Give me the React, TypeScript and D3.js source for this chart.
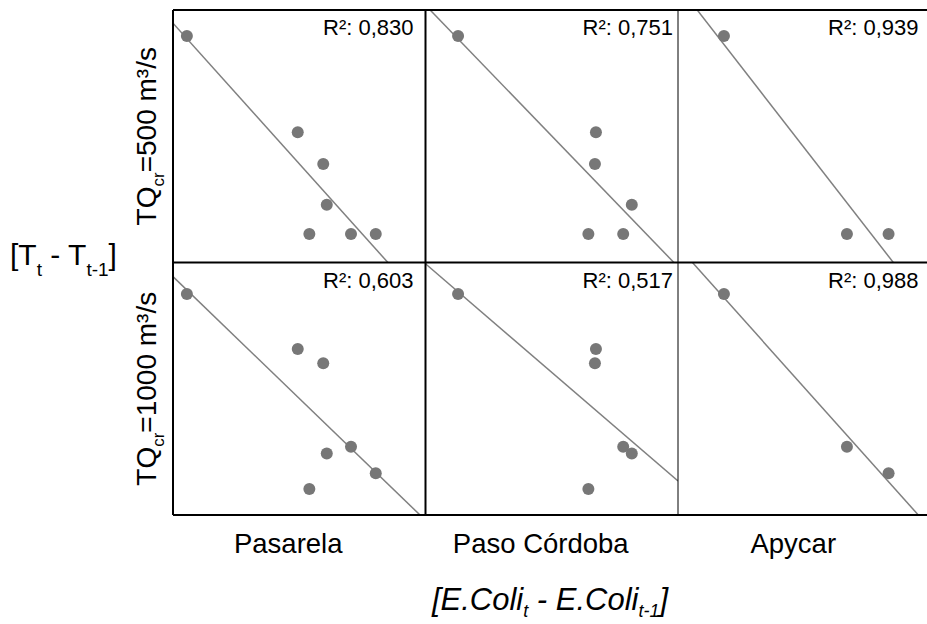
import React from 'react';
import * as d3 from 'd3';

// sites (columns) and thresholds (rows)
const sites = ['Pasarela', 'Paso Córdoba', 'Apycar'];
const thresholds = ['500', '1000'];

// R² per panel [row][col]
const r2Labels = [
  ['0,830', '0,751', '0,939'],
  ['0,603', '0,517', '0,988'],
];

// x values per site (shared by both rows), relative units 0-100
const pasarelaX = [5.5, 49.4, 59.5, 60.9, 54.0, 70.5, 80.3];
const pasoX = [12.9, 67.5, 67.1, 81.7, 64.5, 78.3];
const apycarX = [18.2, 66.9, 83.4];

// y values, TQcr = 500
const pasarela500 = [89.7, 51.6, 39.0, 22.9, 11.3, 11.3, 11.3];
const paso500 = [89.7, 51.6, 39.0, 22.9, 11.3, 11.3];
const apycar500 = [89.7, 11.3, 11.3];

// y values, TQcr = 1000
const pasarela1000 = [87.5, 65.7, 60.1, 24.4, 10.3, 27.0, 16.5];
const paso1000 = [87.5, 65.7, 60.1, 24.4, 10.3, 27.0];
const apycar1000 = [87.5, 27.0, 16.5];

// fitted lines [intercept, slope]
const fits500 = [[94.8, -1.114], [101.9, -1.036], [109.8, -1.2875]];
const fits1000 = [[94.4, -0.965], [99.5, -0.86], [106.4, -1.118]];

const xs = [pasarelaX, pasoX, apycarX];
const ys = [
  [pasarela500, paso500, apycar500],
  [pasarela1000, paso1000, apycar1000],
];
const fits = [fits500, fits1000];

const W = 927;
const H = 624;
const left = 173;
const top = 10;
const cellW = 252.5;
const cellH = 252.5;
const r2Offset = [12, 5, 12];
const gray = '#777777';
const font = 'Arial, "Liberation Sans", Helvetica, sans-serif';

export default function App() {
  const panels = [];
  thresholds.forEach((_, ri) => {
    sites.forEach((_, ci) => {
      const x0 = left + ci * cellW;
      const y0 = top + ri * cellH;
      const x = d3.scaleLinear().domain([0, 100]).range([x0, x0 + cellW]);
      const y = d3.scaleLinear().domain([0, 100]).range([y0 + cellH, y0]);
      const [b, m] = fits[ri][ci];
      const line = d3
        .line<number>()
        .x(d => x(d))
        .y(d => y(b + m * d));
      const clipId = `clip-${ri}-${ci}`;
      panels.push(
        <g key={clipId}>
          <clipPath id={clipId}>
            <rect x={x0} y={y0} width={cellW} height={cellH} />
          </clipPath>
          <g clipPath={`url(#${clipId})`}>
            <path d={line([0, 100]) || ''} stroke="#808080" strokeWidth={1.5} fill="none" />
            {xs[ci].map((xv, i) => (
              <circle key={i} cx={x(xv)} cy={y(ys[ri][ci][i])} r={6} fill={gray} />
            ))}
          </g>
          <text
            x={x0 + cellW - r2Offset[ci]}
            y={y0 + 25}
            textAnchor="end"
            fontSize={22}
            fontFamily={font}
            fill="#000"
          >
            {`R²: ${r2Labels[ri][ci]}`}
          </text>
        </g>
      );
    });
  });

  const bottom = top + 2 * cellH;

  return (
    <svg width={W} height={H} style={{ position: 'absolute', left: 0, top: 0, background: '#fff' }}>
      {panels}
      {/* frame */}
      <g stroke="#000" strokeWidth={2}>
        <line x1={left} x2={W} y1={top} y2={top} />
        <line x1={left} x2={W} y1={top + cellH} y2={top + cellH} />
        <line x1={left} x2={W} y1={bottom} y2={bottom} />
        <line x1={left} x2={left} y1={top} y2={bottom} />
        <line x1={left + cellW} x2={left + cellW} y1={top} y2={bottom} />
        <line x1={left + 2 * cellW} x2={left + 2 * cellW} y1={top} y2={bottom} strokeWidth={1} />
      </g>
      {/* site names */}
      {sites.map((s, ci) => (
        <text
          key={s}
          x={left + ci * cellW + cellW / 2 - 11}
          y={553}
          textAnchor="middle"
          fontSize={27.5}
          fontFamily={font}
          fill="#000"
        >
          {s}
        </text>
      ))}
      {/* row labels */}
      {thresholds.map((t, ri) => {
        const cy = top + ri * cellH + cellH / 2;
        return (
          <text
            key={t}
            transform={`translate(156,${cy}) rotate(-90)`}
            textAnchor="middle"
            fontSize={28}
            fontFamily={font}
            fill="#000"
          >
            TQ
            <tspan fontSize={17} dy={8}>cr</tspan>
            <tspan dy={-8}>{`=${t} m³/s`}</tspan>
          </text>
        );
      })}
      {/* y axis title */}
      <text x={10} y={265} fontSize={30} fontFamily={font} fill="#000">
        [T
        <tspan fontSize={19} dy={11}>t</tspan>
        <tspan dy={-11}> - T</tspan>
        <tspan fontSize={19} dy={11}>t-1</tspan>
        <tspan dy={-11}>]</tspan>
      </text>
      {/* x axis title */}
      <text x={550} y={610} textAnchor="middle" fontSize={31} fontStyle="italic" fontFamily={font} fill="#000">
        [E.Coli
        <tspan fontSize={18} dy={7}>t</tspan>
        <tspan dy={-7}> - E.Coli</tspan>
        <tspan fontSize={18} dy={7}>t-1</tspan>
        <tspan dy={-7}>]</tspan>
      </text>
    </svg>
  );
}
